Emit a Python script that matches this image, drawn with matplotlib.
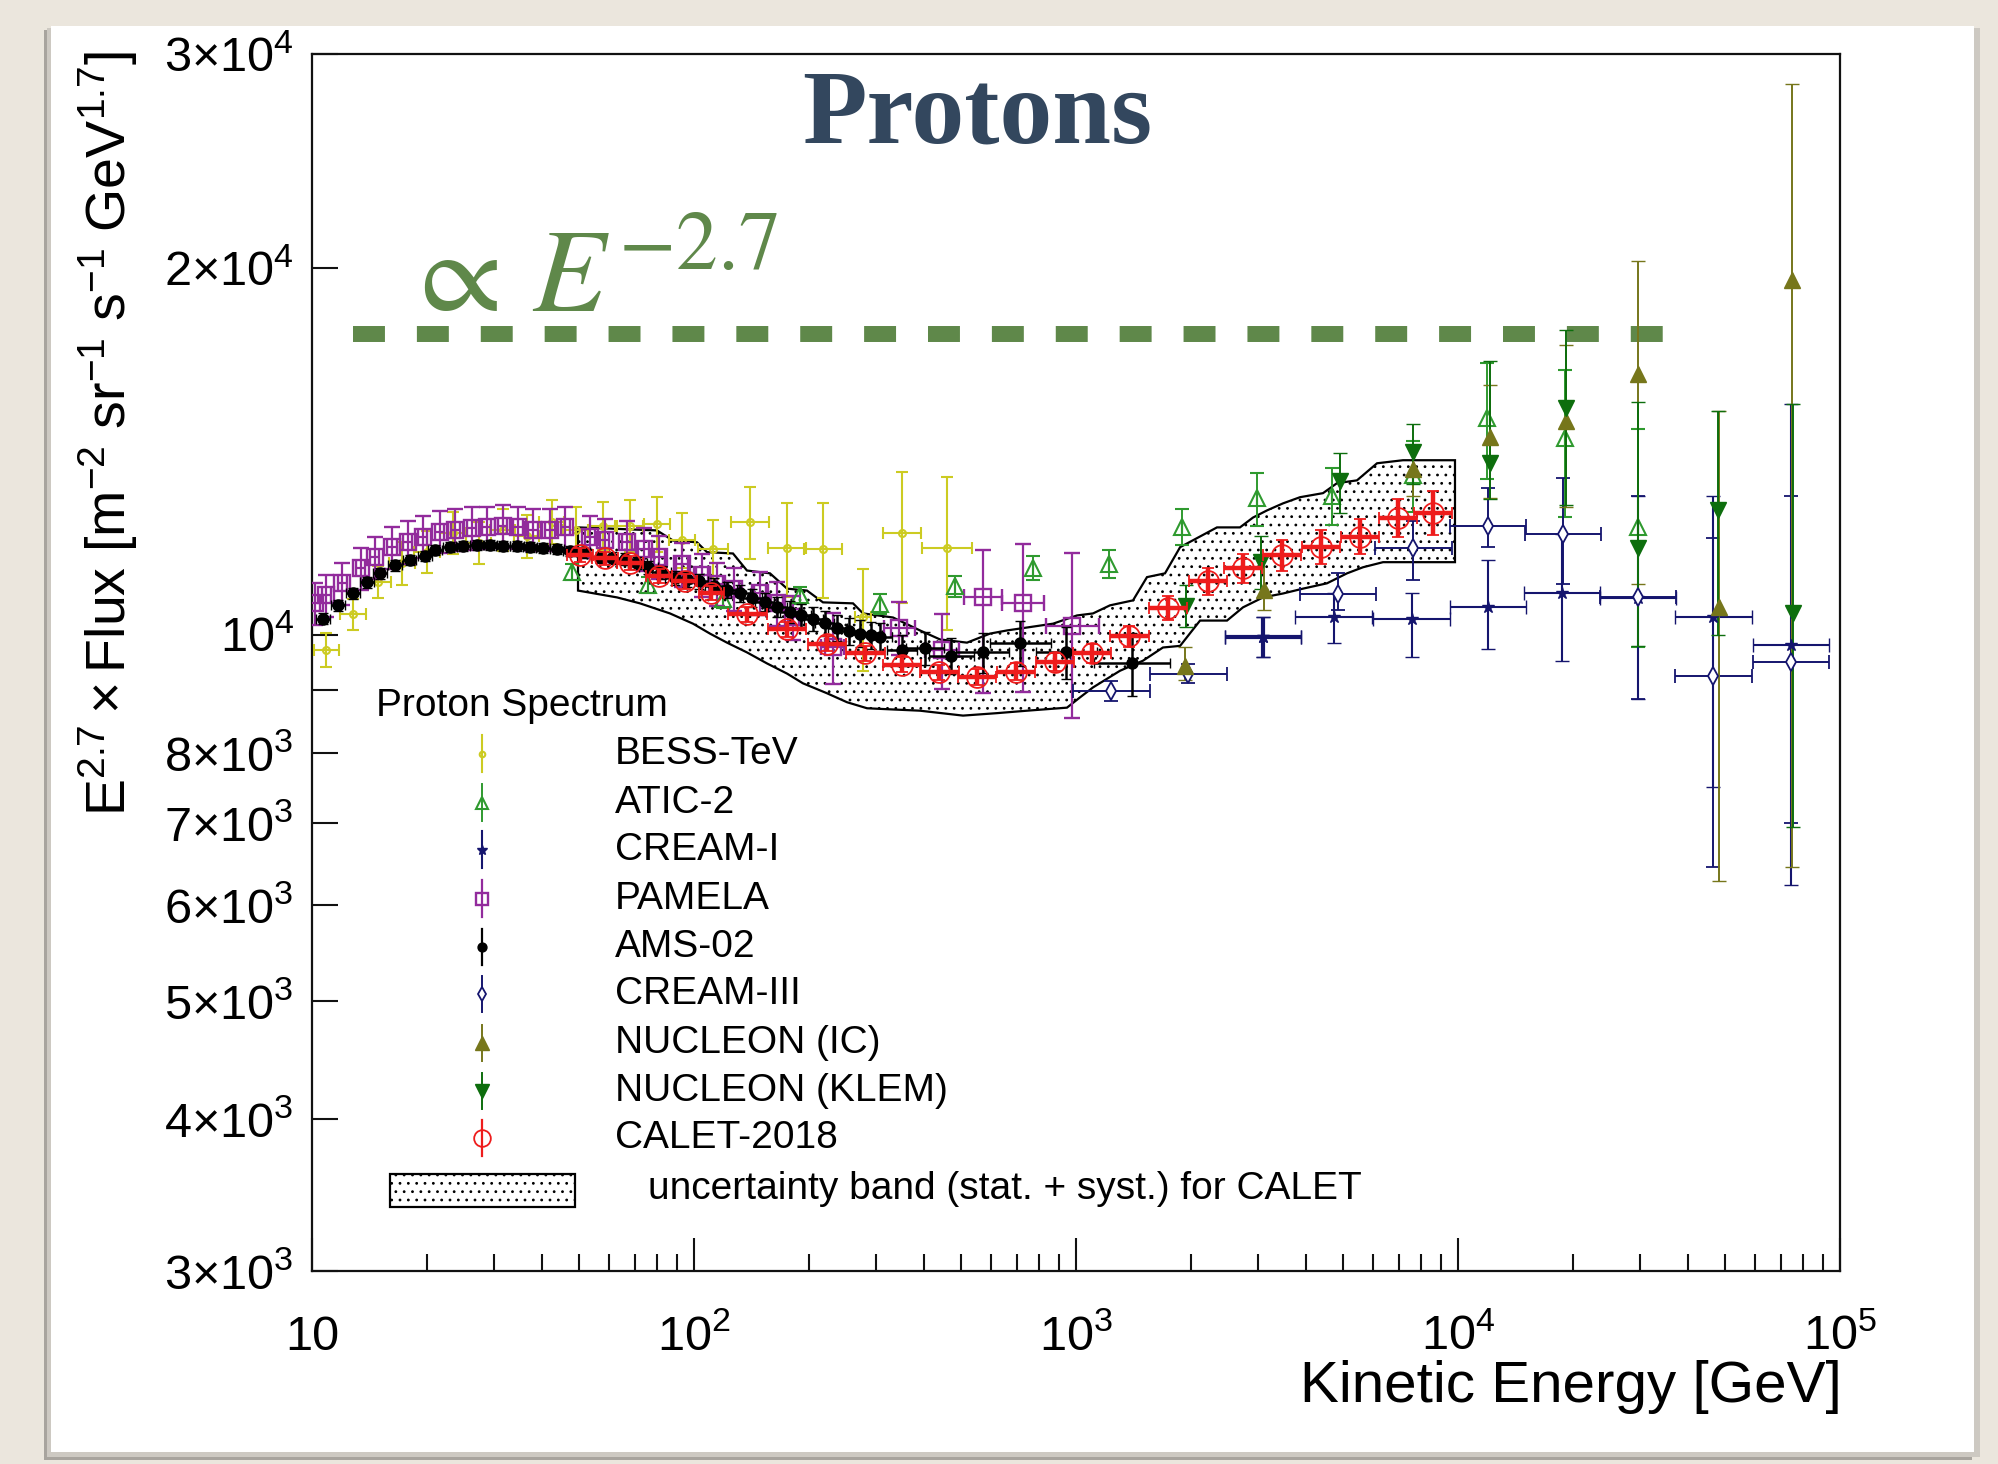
import matplotlib
matplotlib.use('Agg')
import matplotlib.pyplot as plt
import numpy as np
from matplotlib.patches import Rectangle
from matplotlib.ticker import FixedLocator, FixedFormatter, NullFormatter

plt.rcParams['font.family'] = ['Liberation Sans', 'DejaVu Sans']
plt.rcParams['mathtext.fontset'] = 'custom'
plt.rcParams['mathtext.rm'] = 'Liberation Sans'
plt.rcParams['mathtext.it'] = 'Liberation Sans:italic'
plt.rcParams['mathtext.bf'] = 'Liberation Sans:bold'
plt.rcParams['hatch.linewidth'] = 0.8

# ---------------- data (E in GeV, E^2.7 x flux) ----------------
# AMS-02
ams_E = [10.7, 11.7, 12.8, 13.9, 15.1, 16.5, 18.0, 19.8, 21.0, 23.0,
         24.8, 27.0, 29.3, 31.6, 34.4, 37.2, 40.2, 43.8, 47.3, 51.3,
         56.8, 61.0, 66.0, 71.0, 76.0, 82.0, 89.0, 96.0, 103, 113,
         122, 132, 142, 153, 165, 178, 191, 205, 220, 237,
         254, 272, 290, 307, 350, 402, 472, 570, 714, 944, 1400]
ams_F = [10310, 10570, 10810, 11040, 11230, 11400, 11510, 11600, 11730, 11800,
         11820, 11850, 11850, 11830, 11820, 11800, 11780, 11760, 11720, 11690,
         11580, 11560, 11530, 11450, 11360, 11250, 11140, 11100, 11060, 10970,
         10890, 10810, 10720, 10640, 10540, 10440, 10370, 10300, 10220, 10130,
         10070, 10020, 9990, 9960, 9710, 9750, 9610, 9670, 9840, 9670, 9470]
ams_err = [110, 110, 110, 110, 110, 110, 110, 110, 110, 110,
           110, 110, 110, 110, 110, 110, 110, 110, 115, 120,
           120, 125, 130, 130, 135, 140, 145, 150, 155, 160,
           165, 170, 180, 190, 200, 210, 220, 230, 240, 250,
           255, 260, 260, 260, 280, 300, 330, 370, 420, 470, 570]
ams_dx = [0.018] * 20 + [0.025] * 20 + [0.03, 0.03, 0.03, 0.03, 0.04, 0.05, 0.06, 0.07, 0.08, 0.08, 0.1]

# PAMELA
pam_E = [10.2, 10.9, 12.0, 13.4, 14.6, 16.2, 17.8, 19.5, 21.6, 23.7,
         26.2, 28.7, 31.6, 34.6, 37.9, 42.0, 46.0, 53.4, 58.4, 66.8,
         73.8, 81.2, 93.0, 105, 115, 127, 149, 165, 182, 231,
         345, 446, 570, 726, 978]
pam_F = [10610, 10770, 11020, 11340, 11580, 11800, 11920, 12030, 12150, 12200,
         12230, 12250, 12280, 12250, 12200, 12200, 12250, 12030, 11960, 11920,
         11750, 11580, 11420, 11190, 11010, 10900, 10810, 10610, 10330, 9760,
         10130, 9710, 10730, 10610, 10170]
pam_elo = [420, 430, 440, 450, 460, 470, 480, 480, 490, 490,
           490, 490, 490, 490, 490, 490, 490, 480, 480, 480,
           480, 480, 470, 460, 450, 450, 440, 440, 430, 650,
           500, 680, 1780, 1640, 1630]
pam_ehi = [420, 430, 440, 450, 460, 470, 480, 480, 490, 490,
           490, 490, 490, 490, 490, 490, 490, 480, 480, 480,
           480, 480, 470, 460, 450, 450, 440, 440, 430, 650,
           500, 680, 1000, 1270, 1500]
pam_dx = [0.012] * 20 + [0.015] * 9 + [0.03, 0.04, 0.045, 0.05, 0.055, 0.07]

# BESS-TeV
bess_E = [10.9, 12.8, 14.9, 17.2, 20.0, 23.4, 27.3, 31.6, 36.5, 42.4, 49.0,
          57.7, 68.0, 80.0, 93.0, 112, 140, 175, 218, 277, 350, 459]
bess_F = [9720, 10390, 11050, 11450, 11700, 12130, 11900, 12200, 12050, 12380, 12200,
          12290, 12290, 12330, 11960, 11770, 12380, 11780, 11770, 10330, 12110, 11780]
bess_err = [320, 300, 330, 460, 470, 480, 480, 490, 500, 520, 520,
            560, 600, 640, 620, 660, 850, 1050, 1050, 1000, 1500, 1700]
bess_dx = [0.033] * 15 + [0.04, 0.05, 0.05, 0.05, 0.02, 0.05, 0.066]

# ATIC-2
atic_E = [47.9, 75.8, 119, 190, 307, 482, 770, 1218, 1900, 2977, 4674, 7640, 11930, 19060, 29600]
atic_F = [11250, 10980, 10690, 10770, 10590, 10960, 11350, 11440, 12270, 12940, 13010, 13520, 15080, 14500, 12270]
atic_err = [170, 170, 170, 180, 200, 220, 260, 300, 420, 650, 700, 900, 1650, 2000, 2500]

# CREAM-I
c1_E = [3090, 4725, 7560, 11970, 18700, 29600, 46600, 74300]
c1_F = [9950, 10340, 10300, 10540, 10830, 10720, 10340, 9800]
c1_lo = [9580, 9850, 9580, 9740, 9520, 8850, 7500, 6230]
c1_hi = [10330, 10810, 10810, 11510, 12100, 12990, 12990, 15460]

# CREAM-III
c3_E = [1238, 1970, 4850, 7640, 12000, 18800, 29600, 46600, 74400]
c3_F = [8990, 9290, 10790, 11780, 12290, 12100, 10740, 9250, 9500]
c3_lo = [8820, 9120, 10470, 11080, 11800, 11000, 8850, 6440, 7000]
c3_hi = [9160, 9460, 11230, 12400, 13210, 13460, 12990, 12000, 13000]

# NUCLEON (IC)
nic_E = [1930, 3100, 7640, 12100, 19200, 29600, 48300, 75000]
nic_F = [9430, 10880, 13670, 14540, 14980, 16380, 10540, 19580]
nic_lo = [9170, 10470, 13000, 12940, 12720, 11000, 6270, 6440]
nic_hi = [9760, 11620, 14300, 16030, 17300, 20270, 15260, 28340]

# NUCLEON (KLEM)
nk_E = [1940, 3050, 4900, 7640, 12100, 19200, 29600, 47800, 75200]
nk_F = [10560, 11470, 13370, 14140, 13850, 15350, 11790, 12650, 10420]
nk_lo = [10150, 10900, 12600, 13300, 12920, 12770, 9780, 10000, 6950]
nk_hi = [10990, 12050, 14100, 14900, 16770, 17790, 15520, 15260, 15460]

# CALET-2018
cal_E = [50.3, 58.5, 68.0, 81.0, 94.5, 111, 138, 175, 223, 281,
         350, 439, 551, 697, 882, 1100, 1380, 1740, 2220, 2730,
         3460, 4370, 5550, 6950, 8600]
cal_F = [11630, 11550, 11450, 11180, 11060, 10820, 10390, 10100, 9830, 9650,
         9450, 9310, 9230, 9320, 9490, 9650, 9970, 10520, 11060, 11340,
         11620, 11810, 12040, 12480, 12600]
cal_err = [150, 150, 150, 150, 150, 150, 150, 150, 140, 140,
           140, 140, 140, 150, 160, 180, 200, 240, 280, 310,
           340, 370, 400, 450, 530]
cal_dx = [0.033] * 6 + [0.05] * 19

# CALET uncertainty band
band_up_E = [49.7, 80.0, 88.1, 101.8, 108.1, 126.5, 137.6, 158.1, 175.2, 197.6,
             217.6, 260.8, 277.0, 331.9, 390.5, 440.6, 518.4, 595.5, 659.8, 870.9,
             1006, 1108, 1227, 1410, 1534, 1710, 1873, 2339, 2687, 2906,
             3162, 3483, 3858, 4432, 4823, 5439, 6138, 7178, 9820]
band_up_F = [12250, 12180, 11950, 11910, 11690, 11660, 11290, 11230, 10910, 10870,
             10630, 10610, 10410, 10330, 10080, 9910, 9850, 10020, 10080, 10210,
             10370, 10410, 10570, 10670, 11150, 11230, 11800, 12250, 12250, 12480,
             12650, 12820, 12970, 13070, 13320, 13390, 13830, 13910, 13910]
band_lo_E = [49.7, 62.9, 72.2, 86.5, 99.4, 110.1, 122.0, 137.6, 155.3, 175.2,
             192.9, 223.0, 251.5, 283.8, 306.9, 390.5, 506.1, 621.2, 744.2, 947.1,
             1024, 1108, 1304, 1498, 1689, 1873, 2112, 2485, 2736, 3087,
             3483, 3929, 4539, 5122, 5640, 6365, 9820]
band_lo_F = [10870, 10730, 10610, 10410, 10210, 10020, 9850, 9670, 9470, 9290,
             9120, 8950, 8800, 8700, 8690, 8660, 8580, 8620, 8660, 8710,
             8880, 9050, 9340, 9520, 9760, 9790, 10270, 10270, 10530, 10730,
             10810, 10910, 11020, 11230, 11360, 11470, 11470]

# E^-2.7 reference line
ref_E = [12.8, 35000]
ref_F = [17650, 17650]

y_ticks = [3e3, 4e3, 5e3, 6e3, 7e3, 8e3, 9e3, 1e4, 2e4, 3e4]
y_labels = [r'$3{\times}10^{3}$', r'$4{\times}10^{3}$', r'$5{\times}10^{3}$', r'$6{\times}10^{3}$',
            r'$7{\times}10^{3}$', r'$8{\times}10^{3}$', '', r'$10^{4}$',
            r'$2{\times}10^{4}$', r'$3{\times}10^{4}$']
x_ticks = [10, 1e2, 1e3, 1e4, 1e5]
x_labels = ['10', r'$10^{2}$', r'$10^{3}$', r'$10^{4}$', r'$10^{5}$']

# ---------------- figure ----------------
W, H = 1999, 1464
fig = plt.figure(figsize=(W / 100, H / 100), dpi=100)
fig.patch.set_facecolor('#ebe6dd')


def slide_rect(x0, y0, x1, y1, **kw):
    fig.patches.append(Rectangle((x0 / W, 1 - y1 / H), (x1 - x0) / W, (y1 - y0) / H,
                                 transform=fig.transFigure, zorder=-5, **kw))


slide_rect(44, 30, 1972, 1460, facecolor='#a8a49e', edgecolor='none')
slide_rect(47, 28, 1980, 1457, facecolor='#cdc9c2', edgecolor='none')
slide_rect(51, 26, 1974, 1452, facecolor='white', edgecolor='none')

ax = fig.add_axes([312 / W, 1 - 1271 / H, 1528 / W, 1217 / H])
ax.set_zorder(2)
ax.set_xscale('log')
ax.set_yscale('log')
ax.set_xlim(10, 1e5)
ax.set_ylim(3e3, 3e4)
for s in ax.spines.values():
    s.set_linewidth(1.6)
    s.set_color('#111111')

# band
bx = np.concatenate([band_up_E, band_lo_E[::-1]])
by = np.concatenate([band_up_F, band_lo_F[::-1]])
ax.fill(bx, by, facecolor='white', edgecolor='black', hatch='..', linewidth=1.6, zorder=1)

# reference line
ax.plot(ref_E, ref_F, color='#5f884a', lw=11.5, dashes=(2, 2), solid_capstyle='butt',
        dash_capstyle='butt', zorder=2)


def draw(E, F, lo, hi, dx, **st):
    E = np.asarray(E, float)
    F = np.asarray(F, float)
    dx = np.broadcast_to(np.asarray(dx, float), E.shape)
    yerr = [F - np.asarray(lo, float), np.asarray(hi, float) - F]
    xerr = [E - E / 10 ** dx, E * 10 ** dx - E]
    ax.errorbar(E, F, xerr=xerr, yerr=yerr, ls='none', **st)


styles = {
    'BESS-TeV': dict(color='#cccb22', marker='o', ms=5, mfc='none', mew=1.5, elinewidth=1.5, capsize=4, capthick=1.5, zorder=3),
    'ATIC-2': dict(color='#2f9a2f', marker='^', ms=11, mfc='none', mew=1.5, elinewidth=1.4, capsize=5, capthick=1.4, zorder=4),
    'CREAM-I': dict(color='#15156e', marker='*', ms=9, mfc='#15156e', mew=1, elinewidth=1.5, capsize=5, capthick=1.5, zorder=5),
    'PAMELA': dict(color='#922b9c', marker='s', ms=11.5, mfc='none', mew=1.7, elinewidth=1.6, capsize=5.5, capthick=1.6, zorder=4),
    'AMS-02': dict(color='black', marker='o', ms=8, mfc='black', mew=1, elinewidth=1.8, capsize=3.5, capthick=1.8, zorder=6),
    'CREAM-III': dict(color='#15156e', marker='d', ms=9, mfc='white', mew=1.3, elinewidth=1.4, capsize=5, capthick=1.4, zorder=5),
    'NUCLEON (IC)': dict(color='#76761b', marker='^', ms=12, mfc='#76761b', mew=1, elinewidth=1.4, capsize=5, capthick=1.4, zorder=5),
    'NUCLEON (KLEM)': dict(color='#0d6e0d', marker='v', ms=12, mfc='#0d6e0d', mew=1, elinewidth=1.4, capsize=5, capthick=1.4, zorder=5),
    'CALET-2018': dict(color='#ee1c1c', marker='o', ms=15, mfc='none', mew=1.3, elinewidth=3.2, capsize=4.5, capthick=3.2, zorder=7),
}

draw(bess_E, bess_F, np.subtract(bess_F, bess_err), np.add(bess_F, bess_err), bess_dx, **styles['BESS-TeV'])
draw(atic_E, atic_F, np.subtract(atic_F, atic_err), np.add(atic_F, atic_err), 0, **styles['ATIC-2'])
draw(c1_E, c1_F, c1_lo, c1_hi, 0.1, **styles['CREAM-I'])
# the lowest CREAM-I bin is drawn with a heavier line in the original
draw(c1_E[:1], c1_F[:1], c1_lo[:1], c1_hi[:1], 0.1, **dict(styles['CREAM-I'], elinewidth=3, capthick=3))
draw(pam_E, pam_F, np.subtract(pam_F, pam_elo), np.add(pam_F, pam_ehi), pam_dx, **styles['PAMELA'])
draw(ams_E, ams_F, np.subtract(ams_F, ams_err), np.add(ams_F, ams_err), ams_dx, **styles['AMS-02'])
draw(c3_E, c3_F, c3_lo, c3_hi, 0.1, **styles['CREAM-III'])
draw(nic_E, nic_F, nic_lo, nic_hi, 0, **styles['NUCLEON (IC)'])
draw(nk_E, nk_F, nk_lo, nk_hi, 0, **styles['NUCLEON (KLEM)'])
draw(cal_E, cal_F, np.subtract(cal_F, cal_err), np.add(cal_F, cal_err), cal_dx, **styles['CALET-2018'])

# ticks
ax.xaxis.set_major_locator(FixedLocator(x_ticks))
ax.xaxis.set_major_formatter(FixedFormatter(x_labels))
ax.xaxis.set_minor_locator(FixedLocator([k * 10 ** d for d in range(1, 5) for k in range(2, 10)]))
ax.xaxis.set_minor_formatter(NullFormatter())
ax.yaxis.set_major_locator(FixedLocator(y_ticks))
ax.yaxis.set_major_formatter(FixedFormatter(y_labels))
ax.yaxis.set_minor_locator(FixedLocator([1e4]))
ax.yaxis.set_minor_formatter(NullFormatter())
ax.tick_params(which='both', direction='in', top=False, right=False, color='#111111')
ax.tick_params(axis='x', which='major', length=24, width=1.5, labelsize=35, pad=57)
ax.tick_params(axis='x', which='minor', length=12, width=1.5)
ax.tick_params(axis='y', which='major', length=19, width=1.5, labelsize=35, pad=13)
ax.tick_params(axis='y', which='minor', length=35, width=1.5)
for lab in ax.get_xticklabels():
    lab.set_verticalalignment('baseline')

# axis titles
fig.text(1842 / W, 1 - 1360 / H, 'Kinetic Energy [GeV]', ha='right', va='top', size=42)
fig.text(108 / W, 1 - 51 / H,
         r'$\mathrm{E^{2.7}\times Flux\ [m^{-2}\ sr^{-1}\ s^{-1}\ GeV^{1.7}]}$',
         rotation=90, ha='center', va='top', size=40)

# slide annotations
fig.text(977 / W, 1 - 143 / H, 'Protons', family=['Liberation Serif', 'DejaVu Serif'],
         weight='bold', size=76, color='#33475e', ha='center', va='baseline')
fig.text(402 / W, 1 - 312 / H, r'$\propto\,E^{-2.7}$', math_fontfamily='stix',
         size=86, color='#5f884a', ha='left', va='baseline')

# legend (drawn by hand, ROOT style)
ax.text(0.0419, 0.4646, 'Proton Spectrum', transform=ax.transAxes, ha='left', va='center', size=28)
leg_names = ['BESS-TeV', 'ATIC-2', 'CREAM-I', 'PAMELA', 'AMS-02', 'CREAM-III',
             'NUCLEON (IC)', 'NUCLEON (KLEM)', 'CALET-2018']
leg_y = [0.4252, 0.3849, 0.3462, 0.3059, 0.2664, 0.2278, 0.1875, 0.148, 0.1094]
for name, yy in zip(leg_names, leg_y):
    st = styles[name]
    ax.plot([0.1113, 0.1113], [yy - 0.015, yy + 0.015], transform=ax.transAxes, clip_on=False,
            color=st['color'], lw=min(st['elinewidth'], 1.6), zorder=8)
    ax.plot([0.1113], [yy], transform=ax.transAxes, clip_on=False, ls='none',
            marker=st['marker'], ms=st['ms'] * 0.8, mfc=st['mfc'], mec=st['color'], mew=st['mew'], zorder=9)
    ax.text(0.1983, yy, name, transform=ax.transAxes, ha='left', va='center', size=28)
ax.add_patch(Rectangle((0.051, 0.0526), 0.1211, 0.0272, transform=ax.transAxes, facecolor='white',
                       edgecolor='black', hatch='..', lw=1.6, clip_on=False, zorder=8))
ax.text(0.2199, 0.0674, 'uncertainty band (stat. + syst.) for CALET', transform=ax.transAxes,
        ha='left', va='center', size=28)

fig.savefig('out.png', dpi=100, facecolor=fig.get_facecolor())
